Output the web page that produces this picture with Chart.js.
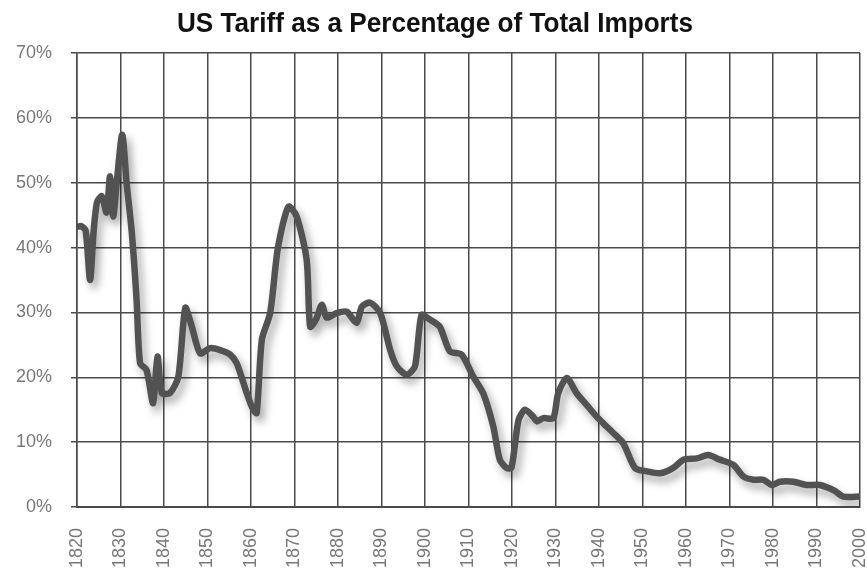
<!DOCTYPE html>
<html>
<head>
<meta charset="utf-8">
<script src="https://cdn.jsdelivr.net/npm/chart.js@4/dist/chart.umd.min.js"></script>
<style>
  html, body { margin: 0; padding: 0; background: #fff; }
  #wrap { width: 867px; height: 575px; }
</style>
</head>
<body>
<div id="wrap"><canvas id="tariffCanvas" aria-label="chart" role="img"></canvas></div>
<script>
// values (year, % of total imports)
const years = [
  1820, 1821, 1822, 1823, 1823.8, 1824.6, 1825.7, 1826.8, 1827.6, 1828.3,
  1829.2, 1830.4, 1831.4, 1832.6, 1833.7, 1834.5, 1836, 1837.5, 1838.5, 1839.5,
  1841.4, 1843.3, 1844.9, 1846.4, 1848.3, 1850.6, 1852.9, 1855.2, 1856.7, 1859,
  1860.3, 1861.3, 1862.5, 1864.4, 1866.2, 1868.6, 1870.5, 1872.8, 1873.6, 1875,
  1876.3, 1877.4, 1879.7, 1882, 1884.3, 1885.5, 1887.4, 1889.7, 1892, 1893.5,
  1895.8, 1897.7, 1899.2, 1901.1, 1903.4, 1905.7, 1908.4, 1911.1, 1913.4, 1915.7,
  1917.2, 1918.8, 1919.9, 1921.5, 1923, 1924.9, 1925.7, 1927.2, 1929.5, 1930.6,
  1932.6, 1934.9, 1937.2, 1939.5, 1941, 1943.3, 1945.6, 1948.3, 1951, 1954,
  1957, 1959.4, 1962.5, 1965.1, 1967.8, 1970.9, 1973.2, 1975.5, 1977.8, 1979.7,
  1981.6, 1984.7, 1987.7, 1990.8, 1993.9, 1996.2, 2000
];
const tariff = [
  43.2, 43.3, 42.6, 35.0, 42.3, 47.0, 47.9, 45.4, 51.0, 44.8,
  50.5, 57.4, 50.0, 42.3, 32.0, 22.2, 21.1, 16.0, 23.2, 17.6,
  17.6, 20.1, 30.7, 27.8, 23.7, 24.5, 24.2, 23.5, 22.2, 17.6,
  15.3, 14.5, 25.8, 29.9, 40.0, 46.3, 44.8, 38.1, 27.8, 29.0,
  31.2, 29.2, 29.9, 30.1, 28.4, 30.9, 31.5, 29.9, 24.2, 21.7,
  20.4, 21.7, 29.6, 28.9, 27.8, 24.0, 23.5, 20.1, 17.5, 12.4,
  7.3, 6.0, 6.1, 13.4, 15.0, 13.9, 13.2, 13.7, 13.7, 17.5,
  19.9, 17.5, 15.7, 13.9, 12.9, 11.4, 9.8, 6.0, 5.5, 5.2,
  6.0, 7.3, 7.5, 8.0, 7.3, 6.5, 4.7, 4.2, 4.2, 3.4,
  3.9, 3.9, 3.4, 3.4, 2.6, 1.6, 1.6
];
const yearMin = 1820;
const yearMax = 2000;
const pctMax = 70;
const chartTitle = "US Tariff as a Percentage of Total Imports";

const tickFont = { family: "'Liberation Sans', Arial, sans-serif", size: 18 };

// soft drop shadow under the line, like the original
const shadowPlugin = {
  id: "lineShadow",
  beforeDatasetsDraw(chart) {
    const ctx = chart.ctx;
    ctx.save();
    ctx.shadowColor = "rgba(0,0,0,0.35)";
    ctx.shadowBlur = 9;
    ctx.shadowOffsetX = 4;
    ctx.shadowOffsetY = 6;
  },
  afterDatasetsDraw(chart) {
    chart.ctx.restore();
  }
};

// condensed bold title (no narrow font installed, so squeeze it)
const titlePlugin = {
  id: "narrowTitle",
  afterDraw(chart) {
    const ctx = chart.ctx;
    ctx.save();
    ctx.font = "bold 28px 'Liberation Sans', Arial, sans-serif";
    ctx.fillStyle = "#111";
    ctx.textAlign = "center";
    ctx.textBaseline = "alphabetic";
    const w = ctx.measureText(chartTitle).width;
    ctx.translate(435, 32);
    ctx.scale(516 / w, 1);
    ctx.fillText(chartTitle, 0, 0);
    ctx.restore();
  }
};

const canvas = document.getElementById("tariffCanvas");

new Chart(canvas, {
  type: "line",
  data: {
    datasets: [
      {
        label: "Tariff",
        data: years.map((y, i) => ({ x: y, y: tariff[i] })),
        borderColor: "#525252",
        borderWidth: 6.5,
        pointRadius: 0,
        tension: 0.25,
        fill: false
      }
    ]
  },
  options: {
    responsive: true,
    maintainAspectRatio: false,
    animation: false,
    layout: { padding: { left: 0, right: 7, top: 53, bottom: 0 } },
    plugins: {
      legend: { display: false },
      tooltip: { enabled: false },
      title: { display: false }
    },
    scales: {
      x: {
        type: "linear",
        min: yearMin,
        max: yearMax,
        afterFit(scale) {
          scale.height = 68;
          scale.paddingLeft = 0;
          scale.paddingRight = 0;
        },
        ticks: {
          stepSize: 10,
          minRotation: 90,
          maxRotation: 90,
          padding: 21,
          color: "#777",
          font: tickFont,
          callback: (v) => String(v)
        },
        grid: { color: "#4a4a4a", lineWidth: 1.5, drawTicks: false },
        border: { color: "#4a4a4a", width: 2 }
      },
      y: {
        min: 0,
        max: pctMax,
        afterFit(scale) {
          scale.width = 77;
          scale.paddingTop = 0;
          scale.paddingBottom = 0;
        },
        ticks: {
          stepSize: 10,
          padding: 19,
          color: "#777",
          font: tickFont,
          callback: (v) => v + "%"
        },
        grid: { color: "#4a4a4a", lineWidth: 1.5, tickLength: 6 },
        border: { color: "#4a4a4a", width: 1.5 }
      }
    }
  },
  plugins: [shadowPlugin, titlePlugin]
});
</script>
</body>
</html>
